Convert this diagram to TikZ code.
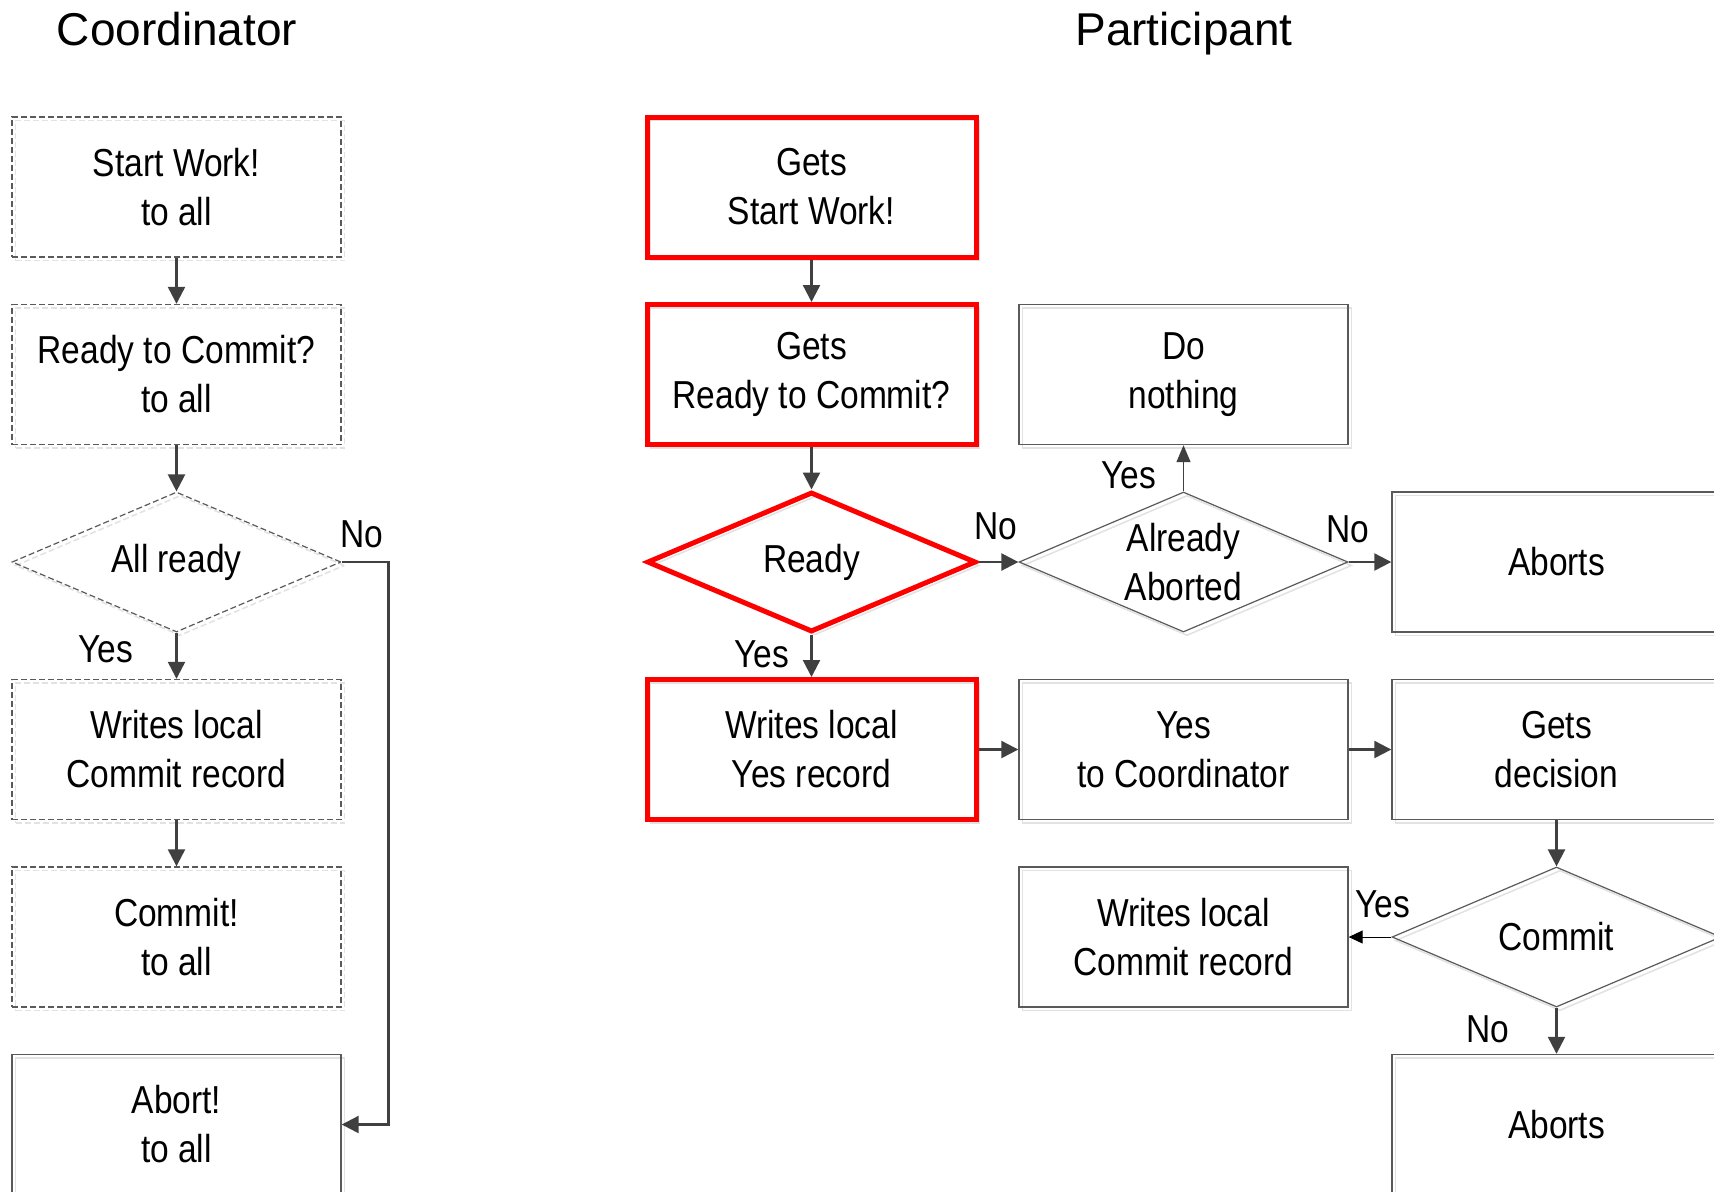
\documentclass[tikz,border=0pt]{standalone}
\usepackage{fontspec}
\setmainfont{Liberation Sans}
\newfontfamily\narrowf[FakeStretch=0.86]{Liberation Sans}
\usetikzlibrary{shapes.geometric,arrows.meta}
\definecolor{arrowc}{HTML}{404040}
\definecolor{boxc}{HTML}{5A5A5A}
\definecolor{shadc}{HTML}{E2E2E2}
\tikzset{
  btext/.style={font=\narrowf\fontsize{19.5}{24.5}\selectfont, align=center, text=black},
  titletext/.style={font=\fontsize{23}{27}\selectfont, text=black},
  shad/.style={preaction={draw=shadc, line width=0.75pt, transform canvas={shift={(1.75pt,-1.75pt)}}}},
  plainbox/.style={rectangle, draw=boxc, line width=0.7pt, minimum width=164.5pt, minimum height=70pt, inner sep=0pt, btext, shad},
  dashbox/.style={plainbox, dash pattern=on 3pt off 1.5pt},
  redbox/.style={plainbox, draw=red, line width=2.5pt},
  dia/.style={diamond, draw=boxc, line width=0.6pt, minimum width=164.5pt, minimum height=70pt, inner sep=0pt, shad},
  dashdia/.style={dia, dash pattern=on 3pt off 1.5pt},
  reddia/.style={dia, draw=red, line width=2.5pt},
  lbl/.style={btext, inner sep=0pt},
  arr/.style={draw=arrowc, line width=1.15pt, -{Triangle[length=8.5pt,width=8.5pt]}},
  thinarr/.style={draw=arrowc, line width=0.65pt, -{Triangle[length=8.5pt,width=7pt]}},
  blackarr/.style={draw=black, line width=0.5pt, -{Triangle[length=7pt,width=6.5pt]}}
}
\begin{document}
\begin{tikzpicture}[x=0.5pt, y=-0.5pt]
\useasboundingbox[fill=white] (0,0) rectangle (1714,1191);

% titles
\node[titletext, anchor=base] (tc) at (177,45) {Coordinator};
\node[titletext, anchor=base] (tp) at (1184,45) {Participant};

% coordinator
\node[dashbox] (c1) at (176.5,187) {Start Work!\\to all};
\node[dashbox] (c2) at (176.5,374.5) {Ready to Commit?\\to all};
\node[dashdia, label={[btext]center:All ready}] (c3) at (176.5,562) {};
\node[dashbox] (c4) at (176.5,749.5) {Writes local\\Commit record};
\node[dashbox] (c5) at (176.5,937) {Commit!\\to all};
\node[plainbox] (c6) at (176.5,1124.5) {Abort!\\to all};

% participant
\node[redbox] (p1) at (811.5,187) {Gets\\Start Work!};
\node[redbox] (p2) at (811.5,374.5) {Gets\\Ready to Commit?};
\node[reddia, label={[btext]center:Ready}] (p3) at (811.5,562) {};
\node[redbox] (p4) at (811.5,749.5) {Writes local\\Yes record};

\node[plainbox] (q2) at (1183.5,374.5) {Do\\nothing};
\node[dia, label={[btext]center:Already\\Aborted}] (q3) at (1183.5,562) {};
\node[plainbox] (q4) at (1183.5,749.5) {Yes\\to Coordinator};
\node[plainbox] (q5) at (1183.5,937) {Writes local\\Commit record};

\node[plainbox] (r3) at (1556.5,562) {Aborts};
\node[plainbox] (r4) at (1556.5,749.5) {Gets\\decision};
\node[dia, label={[btext]center:Commit}] (r5) at (1556.5,937) {};
\node[plainbox] (r6) at (1556.5,1124.5) {Aborts};

% connectors coordinator
\draw[arr] (c1.south) -- (c2.north);
\draw[arr] (c2.south) -- (c3.north);
\draw[arr] (c3.south) -- (c4.north);
\draw[arr] (c4.south) -- (c5.north);
\draw[arr] (c3.east) -- ++(47,0) |- (c6.east);

% connectors participant
\draw[arr] (p1.south) -- (p2.north);
\draw[arr] (p2.south) -- (p3.north);
\draw[arr] (p3.south) -- (p4.north);
\draw[arr] (p3.east) -- (q3.west);
\draw[thinarr] (q3.north) -- (q2.south);
\draw[arr] (q3.east) -- (r3.west);
\draw[arr] (p4.east) -- (q4.west);
\draw[arr] (q4.east) -- (r4.west);
\draw[arr] (r4.south) -- (r5.north);
\draw[blackarr] (r5.west) -- (q5.east);
\draw[arr] (r5.south) -- (r6.north);

% labels
\node[lbl] (l1) at (362,534) {No};
\node[lbl] (l2) at (106,649) {Yes};
\node[lbl] (l3) at (996,526) {No};
\node[lbl] (l4) at (1129,475) {Yes};
\node[lbl] (l5) at (1348,529) {No};
\node[lbl] (l6) at (762,654) {Yes};
\node[lbl] (l7) at (1383,904) {Yes};
\node[lbl] (l8) at (1488,1029) {No};
\end{tikzpicture}
\end{document}
